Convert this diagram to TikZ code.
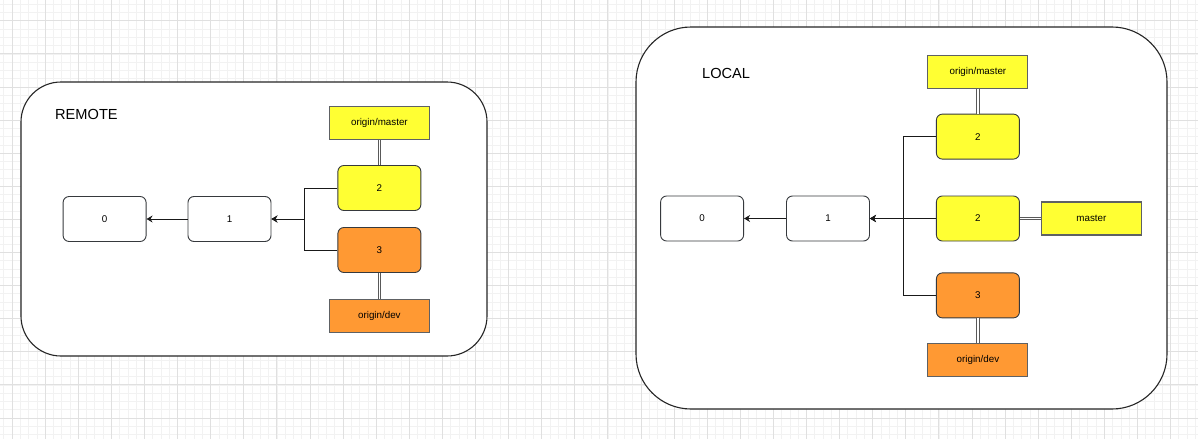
\documentclass[tikz,border=0pt]{standalone}
\usepackage{fontspec}
\setmainfont{Liberation Sans}
\usetikzlibrary{positioning, arrows.meta}

\definecolor{yel}{HTML}{FFFF33}
\definecolor{org}{HTML}{FF9933}
\definecolor{edgegray}{HTML}{36393D}

\tikzset{
  commit/.style = {draw=edgegray, line width=0.9pt, rounded corners=6pt, fill=white,
    minimum width=83pt, minimum height=45pt, inner sep=0pt,
    font=\fontsize{9.8}{11}\selectfont},
  branch/.style = {draw=edgegray!80, line width=1.1pt, minimum width=100pt,
    minimum height=33pt, inner sep=0pt, font=\fontsize{9.8}{11}\selectfont},
  frame/.style = {draw=black!85, line width=1.1pt, fill=white},
  title/.style = {anchor=west, inner sep=0pt, font=\fontsize{14.6}{16}\selectfont},
  parent/.style = {-{Stealth[length=6pt, width=7pt, inset=2pt]}, line width=0.9pt, draw=black!90},
  link/.style = {draw=black!65, double=white, double distance=1.8pt, line width=0.8pt},
  minorline/.style = {draw=black!5, line width=0.6pt},
  majorline/.style = {draw=black!12, line width=0.7pt}
}

\begin{document}
\begin{tikzpicture}[x=1pt, y=-1pt]
\useasboundingbox (0,0) rectangle (1198,439);
\fill[white] (0,0) rectangle (1198,439);
% grid
\foreach \gx in {3.725,12,...,1198} \draw[minorline] (\gx,0) -- (\gx,439);
\foreach \gy in {4.15,12.425,...,439} \draw[minorline] (0,\gy) -- (1198,\gy);
\foreach \gx in {12,45.1,...,1198} \draw[majorline] (\gx,0) -- (\gx,439);
\foreach \gy in {20.7,53.8,...,439} \draw[majorline] (0,\gy) -- (1198,\gy);

% remote
\draw[frame, rounded corners=40pt] (21,82) rectangle (487,356);
\node[title] (remote) at (55,114) {REMOTE};
\node[commit] (r1) at (229.5,219) {1};
\node[commit, left=41pt of r1] (r0) {0};
\node[commit, fill=yel, right=66pt of r1, yshift=31pt] (r2) {2};
\node[commit, fill=org, right=66pt of r1, yshift=-31pt] (r3) {3};
\node[branch, fill=yel, above=25pt of r2] (rmaster) {origin/master};
\node[branch, fill=org, below=26pt of r3] (rdev) {origin/dev};
\draw[parent] (r1) -- (r0);
\draw[parent] (r2.west) -- ++(-33,0) |- (r1.east);
\draw[parent] (r3.west) -- ++(-33,0) |- (r1.east);
\draw[link] (rmaster) -- (r2);
\draw[link] (r3) -- (rdev);

% local
\draw[frame, rounded corners=55pt] (636,27) rectangle (1167,409);
\node[title] (local) at (702,73) {LOCAL};
\node[commit] (l1) at (828,218.5) {1};
\node[commit, left=42pt of l1] (l0) {0};
\node[commit, fill=yel, right=66pt of l1] (l2) {2};
\node[commit, fill=yel, above=36pt of l2] (l2o) {2};
\node[commit, fill=org, below=31pt of l2] (l3) {3};
\node[branch, fill=yel, above=25pt of l2o] (lorigin) {origin/master};
\node[branch, fill=org, below=25pt of l3] (ldev) {origin/dev};
\node[branch, fill=yel, right=21pt of l2] (lmaster) {master};
\draw[parent] (l1) -- (l0);
\draw[parent] (l2) -- (l1);
\draw[parent] (l2o.west) -- ++(-33,0) |- (l1.east);
\draw[parent] (l3.west) -- ++(-33,0) |- (l1.east);
\draw[link] (lorigin) -- (l2o);
\draw[link] (l3) -- (ldev);
\draw[link] (l2) -- (lmaster);
\end{tikzpicture}
\end{document}
